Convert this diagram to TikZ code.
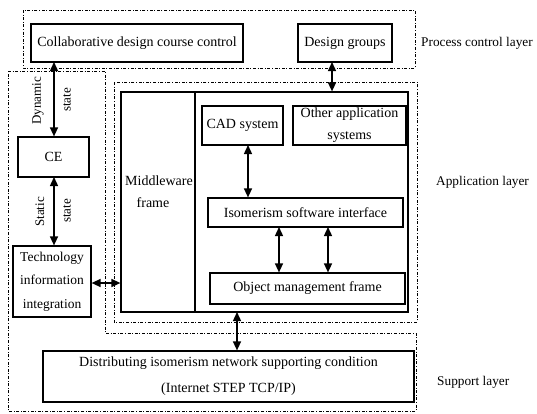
\documentclass[tikz,border=0pt]{standalone}
\usepackage{fontspec}
\setmainfont{Liberation Serif}
\usetikzlibrary{arrows.meta,calc}
\begin{document}
\begin{tikzpicture}[x=1pt,y=-1pt,
  every node/.style={font=\fontsize{14}{23}\selectfont},
  box/.style={draw,line width=1.2pt,inner sep=0pt,align=center},
  layer/.style={draw,line width=1pt,dash pattern=on 3pt off 1.6pt on 1pt off 1.6pt},
  conn/.style={{Triangle[length=9pt,width=8pt]}-{Triangle[length=9pt,width=8pt]},line width=1.4pt},
  lbl/.style={inner sep=0pt},
  side/.style={inner sep=0pt,anchor=west,font=\fontsize{13.3}{16}\selectfont},
  rot/.style={inner sep=0pt,rotate=90,font=\fontsize{13}{16}\selectfont}
]
\useasboundingbox (0,0) rectangle (537,413);
% layer regions
\draw[layer] (23,10) rectangle (415,68);
\draw[layer] (8,71) -- (105,71) -- (105,333) -- (416,333) -- (416,411) -- (8,411) -- cycle;
\draw[layer] (114,82) rectangle (417,322);
% frame
\node[box,minimum width=287pt,minimum height=220pt] (frame) at (264.5,202) {};
\coordinate (divtop) at (195,92);
\coordinate (divbot) at (195,312);
\draw[line width=1.2pt] (divtop) -- (divbot);
\node[lbl] (mw) at (159,181) {Middleware};
\node[lbl] (mwf) at (153,203) {frame};
% boxes
\node[box,minimum width=212pt,minimum height=38pt] (collab) at (137,43) {Collaborative design course control};
\node[box,minimum width=94pt,minimum height=38pt] (design) at (345,43) {Design groups};
\node[box,minimum width=71pt,minimum height=40pt] (ce) at (53.5,157) {CE};
\node[box,minimum width=78pt,minimum height=71pt,font=\fontsize{13.5}{23.5}\selectfont] (tech) at (52,281.5) {Technology\\information\\integration};
\node[box,minimum width=81pt,minimum height=39pt] (cad) at (242.5,125.5) {CAD system};
\node[box,minimum width=113pt,minimum height=39pt,font=\fontsize{14}{22}\selectfont] (other) at (349.5,125.5) {Other application\\systems};
\node[box,minimum width=195pt,minimum height=29pt] (iso) at (305.5,212.5) {Isomerism software interface};
\node[box,minimum width=195pt,minimum height=31pt] (obj) at (307.5,288.5) {Object management frame};
\node[box,minimum width=371pt,minimum height=51pt,font=\fontsize{14}{26}\selectfont] (dist) at (228.5,376.5) {Distributing isomerism network supporting condition\\(Internet STEP TCP/IP)};
% layer labels
\node[side] (plc) at (421,43) {Process control layer};
\node[side] (apl) at (436,182) {Application layer};
\node[side] (spl) at (437,382) {Support layer};
% state labels
\node[rot] (dyn) at (38,101) {Dynamic};
\node[rot] (dst) at (67,100) {state};
\node[rot] (sta) at (40,212) {Static};
\node[rot] (sst) at (67,211) {state};
% connectors
\coordinate (c1) at (54,62);
\draw[conn] (c1) -- (c1 |- ce.north);
\coordinate (c2) at (54,177);
\draw[conn] (c2) -- (c2 |- tech.north);
\coordinate (c3) at (332,62);
\draw[conn] (c3) -- (c3 |- frame.north);
\coordinate (c4) at (248,145);
\draw[conn] (c4) -- (c4 |- iso.north);
\coordinate (c5) at (279,227);
\draw[conn] (c5) -- (c5 |- obj.north);
\coordinate (c6) at (328,227);
\draw[conn] (c6) -- (c6 |- obj.north);
\draw[conn] (tech.east |- 0,283) -- (frame.west |- 0,283);
\coordinate (c7) at (237,312);
\draw[conn] (c7) -- (c7 |- dist.north);
\end{tikzpicture}
\end{document}
